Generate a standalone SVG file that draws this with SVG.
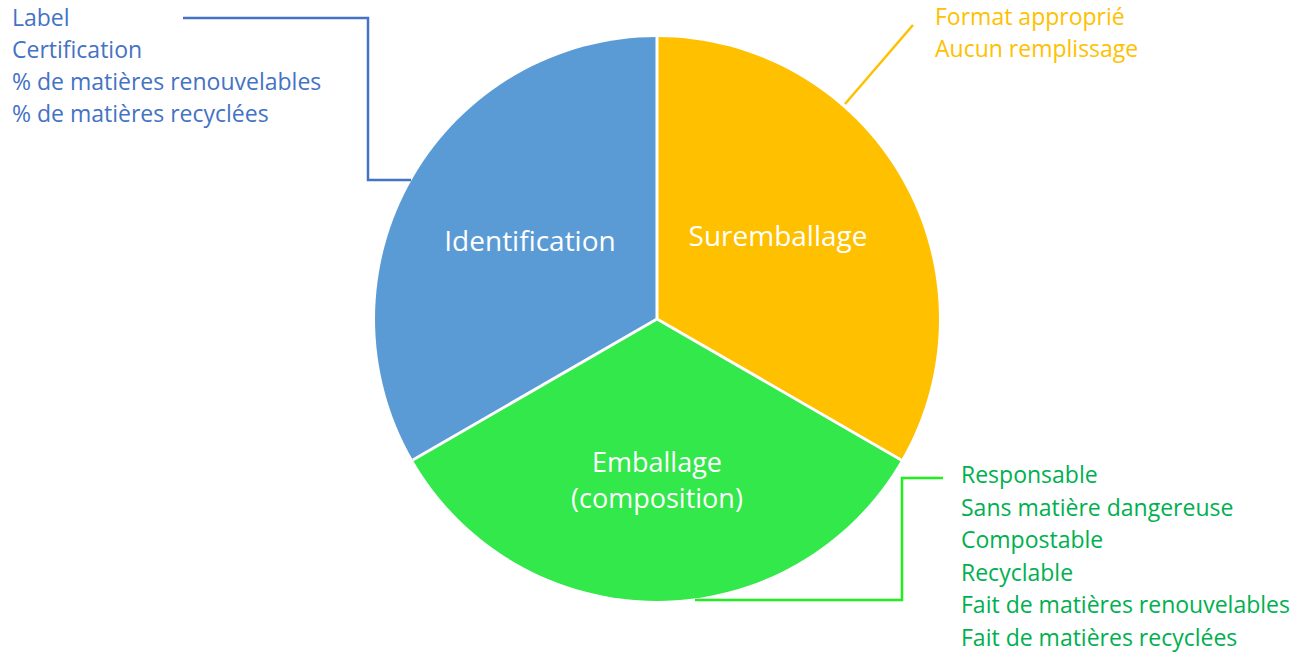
<svg xmlns="http://www.w3.org/2000/svg" width="1309" height="653" viewBox="0 0 1309 653">
<style>
text{font-family:"Open Sans","Liberation Sans",sans-serif}
.lbl{font-size:23px}
.sl{font-size:28px;fill:#ffffff;text-anchor:middle}
.sl2{font-size:27px;fill:#ffffff;text-anchor:middle}
.blue{fill:#4472C4}
.orange{fill:#FFC000}
.green{fill:#00B050}
.sep{stroke:#ffffff;stroke-width:3;fill:none}
.conn{fill:none;stroke-width:2.5}
</style>
<rect width="1309" height="653" fill="#ffffff"/>
<g id="slice-identification">
<path d="M657,319 L657,37 A282,282 0 0 0 412.8,460 Z" fill="#5B9BD5"/>
<text class="sl" x="530" y="251">Identification</text>
</g>
<g id="slice-suremballage">
<path d="M657,319 L657,37 A282,282 0 0 1 901.2,460 Z" fill="#FFC000"/>
<text class="sl" x="778" y="246">Suremballage</text>
</g>
<g id="slice-emballage">
<path d="M657,319 L901.2,460 A282,282 0 0 1 412.8,460 Z" fill="#32E84A"/>
<text class="sl2" x="657" y="472">Emballage</text>
<text class="sl2" x="657" y="508">(composition)</text>
</g>
<g id="separators">
<path class="sep" d="M657,319 L657,37 M657,319 L901.2,460 M657,319 L412.8,460"/>
</g>
<g id="connectors">
<polyline class="conn" stroke="#4472C4" points="183,18 368,18 368,180 411,180"/>
<line class="conn" stroke="#FFC000" x1="845" y1="104" x2="913" y2="25"/>
<polyline class="conn" stroke="#1EF01E" points="695,600 902,600 902,478 943,478"/>
</g>
<g id="labels-identification" class="lbl blue">
<text x="12" y="26">Label</text>
<text x="12" y="58">Certification</text>
<text x="12" y="90">% de matières renouvelables</text>
<text x="12" y="122">% de matières recyclées</text>
</g>
<g id="labels-suremballage" class="lbl orange">
<text x="935" y="25">Format approprié</text>
<text x="935" y="57">Aucun remplissage</text>
</g>
<g id="labels-emballage" class="lbl green">
<text x="961" y="483">Responsable</text>
<text x="961" y="516">Sans matière dangereuse</text>
<text x="961" y="548">Compostable</text>
<text x="961" y="581">Recyclable</text>
<text x="961" y="613">Fait de matières renouvelables</text>
<text x="961" y="646">Fait de matières recyclées</text>
</g>
</svg>
